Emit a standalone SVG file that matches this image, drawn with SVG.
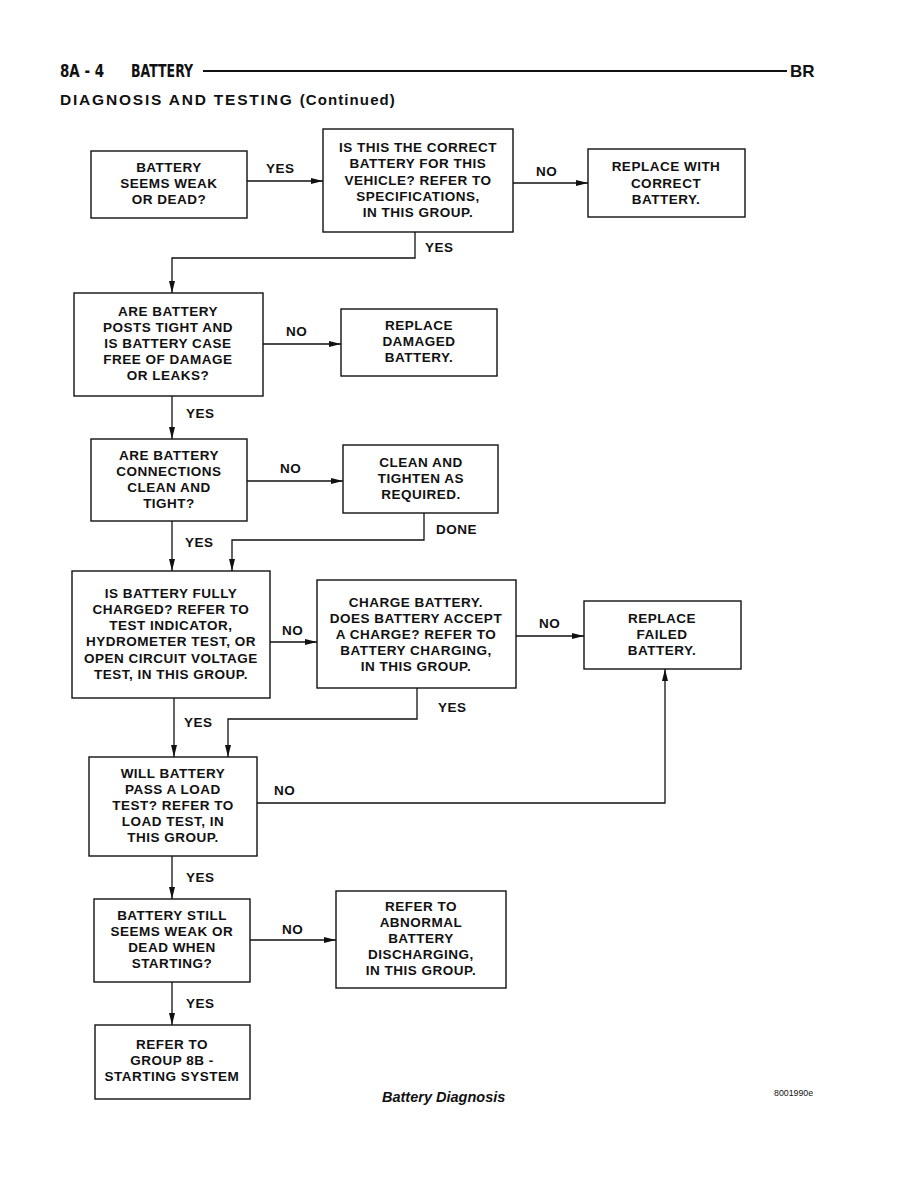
<svg xmlns="http://www.w3.org/2000/svg" width="918" height="1188" viewBox="0 0 918 1188">
<style>
.box{fill:#fff;stroke:#111;stroke-width:1.4}
.t{font-family:"Liberation Sans",Arial,sans-serif;font-weight:bold;font-size:13.5px;letter-spacing:0.5px;fill:#111;text-anchor:middle}
.l{font-family:"Liberation Sans",Arial,sans-serif;font-weight:bold;font-size:13.5px;letter-spacing:0.5px;fill:#111}
.c{fill:none;stroke:#111;stroke-width:1.3}
</style>
<defs>
<marker id="ah" viewBox="0 0 12 8" refX="12" refY="4" markerWidth="12" markerHeight="8" markerUnits="userSpaceOnUse" orient="auto">
<path d="M0,1 L12,4 L0,7 Z" fill="#111"/>
</marker>
</defs>
<rect width="918" height="1188" fill="#fff"/>
<g id="header">
<text x="60" y="77" font-family="'Liberation Sans Narrow','DejaVu Sans Condensed',sans-serif" font-size="17" font-weight="bold" fill="#111" transform="translate(60 0) scale(0.88 1) translate(-60 0)">8A - 4</text>
<text x="131" y="77" font-family="'Liberation Sans Narrow','DejaVu Sans Condensed',sans-serif" font-size="17" font-weight="bold" fill="#111" transform="translate(131 0) scale(0.82 1) translate(-131 0)">BATTERY</text>
<line x1="203" y1="71" x2="787" y2="71" stroke="#111" stroke-width="2"/>
<text x="790" y="77" font-family="'Liberation Sans',Arial,sans-serif" font-size="17" font-weight="900" fill="#111">BR</text>
<text x="60" y="105" font-family="'Liberation Sans',Arial,sans-serif" font-size="15.5" font-weight="900" letter-spacing="1.8" fill="#111">DIAGNOSIS AND TESTING <tspan font-size="15" letter-spacing="1.1">(Continued)</tspan></text>
</g>
<g id="connectors">
<line class="c" x1="247" y1="181" x2="323" y2="181" marker-end="url(#ah)"/>
<line class="c" x1="513" y1="183" x2="588" y2="183" marker-end="url(#ah)"/>
<polyline class="c" points="415,232 415,258 172,258 172,293" marker-end="url(#ah)"/>
<line class="c" x1="263" y1="344" x2="341" y2="344" marker-end="url(#ah)"/>
<line class="c" x1="172" y1="396" x2="172" y2="439" marker-end="url(#ah)"/>
<line class="c" x1="247" y1="481" x2="343" y2="481" marker-end="url(#ah)"/>
<polyline class="c" points="424,513 424,540 232,540 232,571" marker-end="url(#ah)"/>
<line class="c" x1="172" y1="521" x2="172" y2="571" marker-end="url(#ah)"/>
<line class="c" x1="270" y1="642" x2="317" y2="642" marker-end="url(#ah)"/>
<line class="c" x1="516" y1="636" x2="584" y2="636" marker-end="url(#ah)"/>
<polyline class="c" points="417,688 417,719 228,719 228,757" marker-end="url(#ah)"/>
<line class="c" x1="174" y1="698" x2="174" y2="757" marker-end="url(#ah)"/>
<polyline class="c" points="257,803 665,803 665,669" marker-end="url(#ah)"/>
<line class="c" x1="172" y1="856" x2="172" y2="899" marker-end="url(#ah)"/>
<line class="c" x1="250" y1="940" x2="336" y2="940" marker-end="url(#ah)"/>
<line class="c" x1="172" y1="982" x2="172" y2="1025" marker-end="url(#ah)"/>
<text class="l" x="266" y="173">YES</text>
<text class="l" x="536" y="176">NO</text>
<text class="l" x="425" y="252">YES</text>
<text class="l" x="286" y="336">NO</text>
<text class="l" x="186" y="418">YES</text>
<text class="l" x="280" y="473">NO</text>
<text class="l" x="436" y="534">DONE</text>
<text class="l" x="185" y="547">YES</text>
<text class="l" x="282" y="635">NO</text>
<text class="l" x="539" y="628">NO</text>
<text class="l" x="438" y="712">YES</text>
<text class="l" x="184" y="727">YES</text>
<text class="l" x="274" y="795">NO</text>
<text class="l" x="186" y="882">YES</text>
<text class="l" x="282" y="934">NO</text>
<text class="l" x="186" y="1008">YES</text>
</g>
<g id="n1"><rect class="box" x="91" y="151" width="156" height="67"/>
<text class="t" x="169" y="172">BATTERY</text><text class="t" x="169" y="188">SEEMS WEAK</text><text class="t" x="169" y="204">OR DEAD?</text></g>
<g id="n2"><rect class="box" x="323" y="129" width="190" height="103"/>
<text class="t" x="418" y="152">IS THIS THE CORRECT</text><text class="t" x="418" y="168">BATTERY FOR THIS</text><text class="t" x="418" y="185">VEHICLE? REFER TO</text><text class="t" x="418" y="201">SPECIFICATIONS,</text><text class="t" x="418" y="217">IN THIS GROUP.</text></g>
<g id="n3"><rect class="box" x="588" y="149" width="157" height="68"/>
<text class="t" x="666" y="171">REPLACE WITH</text><text class="t" x="666" y="188">CORRECT</text><text class="t" x="666" y="204">BATTERY.</text></g>
<g id="n4"><rect class="box" x="74" y="293" width="189" height="103"/>
<text class="t" x="168" y="316">ARE BATTERY</text><text class="t" x="168" y="332">POSTS TIGHT AND</text><text class="t" x="168" y="348">IS BATTERY CASE</text><text class="t" x="168" y="364">FREE OF DAMAGE</text><text class="t" x="168" y="380">OR LEAKS?</text></g>
<g id="n5"><rect class="box" x="341" y="309" width="156" height="67"/>
<text class="t" x="419" y="330">REPLACE</text><text class="t" x="419" y="346">DAMAGED</text><text class="t" x="419" y="362">BATTERY.</text></g>
<g id="n6"><rect class="box" x="91" y="439" width="156" height="82"/>
<text class="t" x="169" y="460">ARE BATTERY</text><text class="t" x="169" y="476">CONNECTIONS</text><text class="t" x="169" y="492">CLEAN AND</text><text class="t" x="169" y="508">TIGHT?</text></g>
<g id="n7"><rect class="box" x="343" y="445" width="155" height="68"/>
<text class="t" x="421" y="467">CLEAN AND</text><text class="t" x="421" y="483">TIGHTEN AS</text><text class="t" x="421" y="499">REQUIRED.</text></g>
<g id="n8"><rect class="box" x="72" y="571" width="198" height="127"/>
<text class="t" x="171" y="598">IS BATTERY FULLY</text><text class="t" x="171" y="614">CHARGED? REFER TO</text><text class="t" x="171" y="630">TEST INDICATOR,</text><text class="t" x="171" y="646">HYDROMETER TEST, OR</text><text class="t" x="171" y="663">OPEN CIRCUIT VOLTAGE</text><text class="t" x="171" y="679">TEST, IN THIS GROUP.</text></g>
<g id="n9"><rect class="box" x="317" y="580" width="199" height="108"/>
<text class="t" x="416" y="607">CHARGE BATTERY.</text><text class="t" x="416" y="623">DOES BATTERY ACCEPT</text><text class="t" x="416" y="639">A CHARGE? REFER TO</text><text class="t" x="416" y="655">BATTERY CHARGING,</text><text class="t" x="416" y="671">IN THIS GROUP.</text></g>
<g id="n10"><rect class="box" x="584" y="601" width="157" height="68"/>
<text class="t" x="662" y="623">REPLACE</text><text class="t" x="662" y="639">FAILED</text><text class="t" x="662" y="655">BATTERY.</text></g>
<g id="n11"><rect class="box" x="89" y="757" width="168" height="99"/>
<text class="t" x="173" y="778">WILL BATTERY</text><text class="t" x="173" y="794">PASS A LOAD</text><text class="t" x="173" y="810">TEST? REFER TO</text><text class="t" x="173" y="826">LOAD TEST, IN</text><text class="t" x="173" y="842">THIS GROUP.</text></g>
<g id="n12"><rect class="box" x="94" y="899" width="156" height="83"/>
<text class="t" x="172" y="920">BATTERY STILL</text><text class="t" x="172" y="936">SEEMS WEAK OR</text><text class="t" x="172" y="952">DEAD WHEN</text><text class="t" x="172" y="968">STARTING?</text></g>
<g id="n13"><rect class="box" x="336" y="891" width="170" height="97"/>
<text class="t" x="421" y="911">REFER TO</text><text class="t" x="421" y="927">ABNORMAL</text><text class="t" x="421" y="943">BATTERY</text><text class="t" x="421" y="959">DISCHARGING,</text><text class="t" x="421" y="975">IN THIS GROUP.</text></g>
<g id="n14"><rect class="box" x="95" y="1025" width="155" height="74"/>
<text class="t" x="172" y="1049">REFER TO</text><text class="t" x="172" y="1065">GROUP 8B -</text><text class="t" x="172" y="1081">STARTING SYSTEM</text></g>
<g id="caption">
<text x="382" y="1102" font-family="'Liberation Sans',Arial,sans-serif" font-size="14.5" font-weight="bold" font-style="italic" fill="#111">Battery Diagnosis</text>
<text x="774" y="1096" font-family="'Liberation Sans',Arial,sans-serif" font-size="8.8" fill="#111">8001990e</text>
</g>
</svg>
